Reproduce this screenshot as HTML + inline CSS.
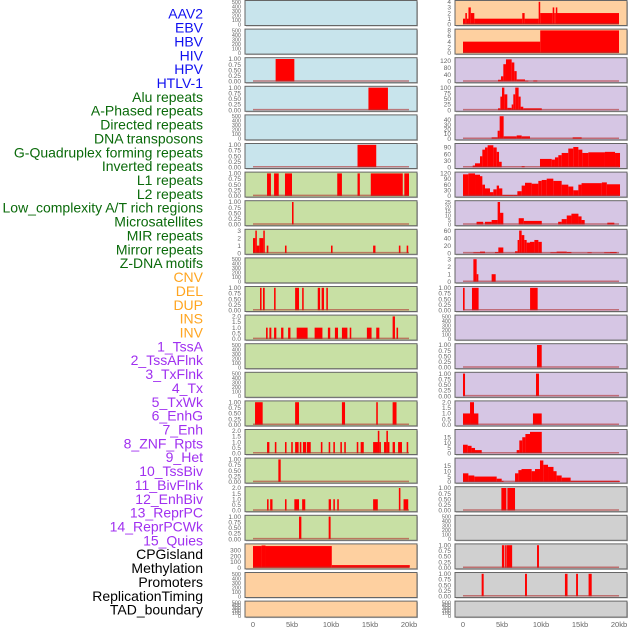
<!DOCTYPE html>
<html><head><meta charset="utf-8"><style>
html,body{margin:0;padding:0;background:#fff;width:630px;height:630px;overflow:hidden}
svg{display:block;font-family:"Liberation Sans",sans-serif}
</style></head><body>
<svg id="chart" width="630" height="630" viewBox="0 0 630 630" xmlns="http://www.w3.org/2000/svg"></svg>
<script>
// ---- track labels ----
const labels = ["AAV2","EBV","HBV","HIV","HPV","HTLV-1","Alu repeats","A-Phased repeats","Directed repeats","DNA transposons","G-Quadruplex forming repeats","Inverted repeats","L1 repeats","L2 repeats","Low_complexity A/T rich regions","Microsatellites","MIR repeats","Mirror repeats","Z-DNA motifs","CNV","DEL","DUP","INS","INV","1_TssA","2_TssAFlnk","3_TxFlnk","4_Tx","5_TxWk","6_EnhG","7_Enh","8_ZNF_Rpts","9_Het","10_TssBiv","11_BivFlnk","12_EnhBiv","13_ReprPC","14_ReprPCWk","15_Quies","CPGisland","Methylation","Promoters","ReplicationTiming","TAD_boundary"];
const labelColors = ["#1010f0","#1010f0","#1010f0","#1010f0","#1010f0","#1010f0","#0a6a0a","#0a6a0a","#0a6a0a","#0a6a0a","#0a6a0a","#0a6a0a","#0a6a0a","#0a6a0a","#0a6a0a","#0a6a0a","#0a6a0a","#0a6a0a","#0a6a0a","#ffa520","#ffa520","#ffa520","#ffa520","#ffa520","#a030f0","#a030f0","#a030f0","#a030f0","#a030f0","#a030f0","#a030f0","#a030f0","#a030f0","#a030f0","#a030f0","#a030f0","#a030f0","#a030f0","#a030f0","#000","#000","#000","#000","#000"];
const xTicks = [0,5,10,15,20];
const xTickLabels = ["0","5kb","10kb","15kb","20kb"];
// ---- tick sets ----
const T500 = [0,100,200,300,400,500];
const T1 = [0,0.25,0.5,0.75,1];
const T2 = [0,0.5,1,1.5,2];
const T3 = [0,1,2,3];
// ---- left column series [startKb,endKb,value] ----
const L_HIV = [[2.9,5.3,1]];
const L_HPV = [[14.8,17.3,1]];
const L_Alu = [[13.4,15.8,1]];
const L_L1 = [[1.8,2.3,1],[2.7,3.3,1],[4.1,5.0,1],[10.8,11.4,1],[13.4,13.7,1],[15.1,19.2,1],[19.4,20.0,1]];
const L_Low = [[5.0,5.2,1]];
const L_MIR = [[0,0.3,2],[0.3,0.47,3],[0.47,0.81,1],[0.81,1.32,2],[1.32,1.5,3],[1.76,1.97,1],[4.1,4.3,1],[10.0,10.2,1],[15.4,15.7,1],[18.7,18.9,1],[19.7,19.9,1]];
const L_CNV = [[0.9,1.1,1],[1.28,1.5,1],[2.7,2.9,1],[5.4,5.9,1],[6.3,6.5,1],[8.3,8.6,1],[8.8,9.1,1],[9.4,9.6,1]];
const L_INS = [[1.67,1.88,1],[2.1,2.35,1],[2.7,2.99,1],[3.6,3.9,1],[4.5,4.8,1],[5.6,7.0,1],[7.9,8.9,1],[9.6,9.9,1],[10.5,10.9,1],[11.4,12.1,1],[12.4,12.6,1],[14.6,15.2,1],[15.8,16.2,1],[17.9,18.2,2],[18.4,18.6,1]];
const L_Tx = [[0.26,1.24,1],[5.4,5.9,1],[11.4,11.8,1],[15.8,16.0,1],[17.9,18.4,1]];
const L_Enh = [[1.8,2.1,1],[2.8,3.0,1],[4.1,4.3,1],[4.9,5.1,1],[5.4,5.85,1],[6.0,6.2,1],[6.4,6.8,1],[6.9,7.4,1],[8.7,8.9,1],[9.7,9.9,1],[10.3,10.5,1],[11.2,11.4,1],[11.7,11.9,1],[13.3,13.5,1],[13.8,14.2,1],[15.4,15.9,1],[15.9,16.0,1],[16.0,16.2,2],[16.2,16.4,1],[16.8,17.1,1],[17.1,17.3,2],[17.3,17.4,1],[17.9,18.2,1],[18.6,19.1,1],[19.7,19.9,1]];
const L_Het = [[3.25,3.55,1]];
const L_Biv = [[1.8,2.0,1],[2.2,2.5,1],[4.1,4.3,1],[5.3,5.9,1],[6.3,6.7,1],[9.7,10.0,1],[10.3,10.5,1],[10.8,11.0,1],[15.4,16.0,1],[18.7,18.9,2],[19.3,19.9,1]];
const L_Repr = [[5.9,6.2,1],[9.7,9.95,1]];
const L_CPG = [[0,1.1,375],[1.1,1.6,385],[1.6,10.1,375],[10.1,20.1,45]];
// ---- right column series ----
const R_AAV2 = [[0,0.3,1],[0.3,0.5,2],[0.5,0.7,1],[0.7,1.0,3],[1.0,1.45,2],[1.45,7.6,1],[7.6,7.9,2],[7.9,9.7,1],[9.7,9.9,4],[9.9,11.5,2],[11.5,11.7,3],[11.7,11.9,2],[11.9,12.05,3],[12.05,20.0,2]];
const R_EBV = [[0,9.9,4],[9.9,20.0,8]];
const R_HBV = [[4.49,4.87,10],[4.87,5.17,30],[5.17,5.51,100],[5.51,6.24,128],[6.24,6.58,110],[6.58,6.88,60],[6.88,7.95,12],[7.95,8.38,5],[9.01,9.53,6]];
const R_HIV = [[4.49,4.79,8],[4.79,5.0,60],[5.0,5.3,100],[5.3,5.68,70],[5.68,6.24,10],[6.24,6.45,25],[6.45,6.7,70],[6.7,7.13,100],[7.13,7.39,60],[7.39,7.73,15],[7.73,10.1,8]];
const R_HPV = [[3.67,4.44,3],[4.44,4.7,17],[4.7,5.21,48],[5.21,6.88,5],[6.88,7.52,7],[7.52,8.59,5],[14.06,15.21,3]];
const R_HTLV = [[1.24,1.54,8],[1.54,2.18,18],[2.18,2.48,50],[2.48,2.82,80],[2.82,3.16,90],[3.16,3.89,100],[3.89,4.32,90],[4.32,4.62,70],[4.62,4.96,25],[7.52,7.9,5],[9.87,11.37,38],[11.37,11.79,35],[11.79,12.22,45],[12.22,12.65,55],[12.65,13.5,65],[13.5,14.14,85],[14.14,14.79,92],[14.79,15.3,80],[15.3,16.07,65],[16.07,18.2,68],[18.2,19.49,70],[19.49,20.13,65]];
const R_Alu = [[0,0.69,115],[0.69,1.54,120],[1.54,2.18,113],[2.18,2.48,105],[2.48,2.82,60],[2.82,3.46,40],[3.46,3.89,20],[3.89,4.32,35],[4.32,4.62,55],[4.62,5.04,40],[5.04,6.45,5],[6.45,6.97,5],[6.97,7.52,25],[7.52,7.95,55],[7.95,8.8,70],[8.8,9.66,65],[9.66,10.09,80],[10.09,10.73,85],[10.73,11.58,92],[11.58,12.65,80],[12.65,13.5,60],[13.5,14.14,50],[14.14,14.79,30],[14.79,15.2,60],[15.2,17.8,68],[17.8,18.44,72],[18.44,20.13,62]];
const R_APh = [[1.74,2.6,3],[2.8,3.67,3],[3.67,4.44,5],[4.44,4.75,25],[4.75,5.17,13],[7.14,7.8,7],[7.8,10.1,4],[12.2,12.65,3],[12.65,13.3,6],[13.3,13.9,10],[13.9,14.8,12],[14.8,15.2,9],[15.2,15.6,5],[18.5,19.4,2]];
const R_Dir = [[1.33,2.18,2],[2.18,2.82,4],[4.1,4.53,3],[4.53,5.17,15],[6.67,7.0,5],[7.0,7.2,35],[7.2,7.52,60],[7.52,7.86,48],[7.86,8.16,35],[8.16,8.59,28],[8.59,9.15,30],[9.15,9.66,35],[9.66,10.1,30],[11.2,12.0,2],[12.0,13.3,4],[13.3,13.9,3],[15.95,16.5,2],[18.1,18.85,2],[18.85,19.7,3]];
const R_DNA = [[1.33,1.75,3],[1.75,1.97,1],[3.67,4.19,1]];
const R_GQ = [[0,0.21,1],[1.15,2.0,1],[8.6,9.57,1]];
const R_L1 = [[9.49,10.09,1]];
const R_L2 = [[0,0.26,1],[9.36,9.74,1]];
const R_Low = [[0,0.9,1],[0.9,1.41,2],[1.41,1.97,1],[8.97,10.09,1]];
const R_Micro = [[0,0.6,8],[0.6,1.1,7],[1.1,1.54,5],[1.54,2.4,3],[6.88,7.22,3],[7.22,7.6,12],[7.6,8.0,15],[8.0,8.59,18],[8.59,10.1,20]];
const R_MIR = [[0,0.69,8],[0.69,1.45,6],[1.45,4.32,5],[4.32,4.96,3],[4.96,5.2,1],[6.67,7.1,8],[7.1,7.5,11],[7.5,8.8,12],[8.8,9.23,10],[9.23,9.87,12],[9.87,10.3,20],[10.3,10.9,16],[10.9,11.6,14],[11.6,12.0,10],[12.0,12.65,6],[12.65,13.8,4],[13.8,20.1,1]];
const R_Mirror = [[4.92,5.56,1],[5.69,6.67,1]];
const R_ZDNA = [[4.99,5.3,1],[5.4,5.6,1],[5.64,6.3,1],[9.49,9.74,1]];
const R_CNV = [[2.39,2.65,1],[7.95,8.2,1],[13.07,13.4,1],[14.5,14.74,1],[16.1,16.5,1]];

const BLUE="#c8e4ec", GREEN="#c8e0a4", ORANGE="#fed0a0", PURPLE="#d6c6e4", GRAY="#d0d0d0";
// panel config: [bg, data, ymax, ticks]
const leftPanels = [
 [BLUE,null,500,T500],[BLUE,null,500,T500],[BLUE,L_HIV,1,T1],[BLUE,L_HPV,1,T1],[BLUE,null,500,T500],[BLUE,L_Alu,1,T1],
 [GREEN,L_L1,1,T1],[GREEN,L_Low,1,T1],[GREEN,L_MIR,3,T3],[GREEN,null,500,T500],[GREEN,L_CNV,1,T1],[GREEN,L_INS,2,T2],
 [GREEN,null,500,T500],[GREEN,null,500,T500],[GREEN,L_Tx,1,T1],[GREEN,L_Enh,2,T2],[GREEN,L_Het,1,T1],[GREEN,L_Biv,2,T2],[GREEN,L_Repr,1,T1],
 [ORANGE,L_CPG,390,[0,100,200,300]],[ORANGE,null,500,T500],[ORANGE,null,500,T500]];
const rightPanels = [
 [ORANGE,R_AAV2,4,[0,1,2,3,4]],[ORANGE,R_EBV,8,[0,2,4,6,8]],[PURPLE,R_HBV,130,[0,40,80,120]],[PURPLE,R_HIV,100,[0,25,50,75,100]],
 [PURPLE,R_HPV,48,[0,10,20,30,40]],[PURPLE,R_HTLV,102,[0,30,60,90]],[PURPLE,R_Alu,120,[0,30,60,90,120]],[PURPLE,R_APh,25,[0,5,10,15,20,25]],
 [PURPLE,R_Dir,60,[0,20,40,60]],[PURPLE,R_DNA,3,T3],[PURPLE,R_GQ,1,T1],[PURPLE,null,500,T500],[PURPLE,R_L1,1,T1],[PURPLE,R_L2,1,T1],
 [PURPLE,R_Low,2,T2],[PURPLE,R_Micro,21,[0,5,10,15]],[PURPLE,R_MIR,21,[0,5,10,15]],[GRAY,R_Mirror,1,T1],[GRAY,null,500,T500],
 [GRAY,R_ZDNA,1,T1],[GRAY,R_CNV,1,T1],[GRAY,null,500,T500]];

const svg = document.getElementById('chart');
const NS = "http://www.w3.org/2000/svg";
function mk(tag, attrs, parent){const e=document.createElementNS(NS,tag);for(const k in attrs)e.setAttribute(k,attrs[k]);(parent||svg).appendChild(e);return e;}
function fmt(t,ticks){const mx=ticks[ticks.length-1];if(mx===1)return t.toFixed(2);if(mx===2)return t.toFixed(1);return String(t);}

// labels
labels.forEach((l,i)=>{
  const t=mk('text',{x:203,y:15+i*13.86,'text-anchor':'end','dominant-baseline':'middle','font-size':'14',fill:labelColors[i]});
  t.textContent=l;
  
  
});

function drawColumn(panels, px, colName){
  const w=172, x0=px+8, kbScale=7.8;
  const xS=kb=>x0+kb*kbScale;
  panels.forEach((p,i)=>{
    const top=0.5+i*28.6, h=(i===21)?16:25;
    const g=mk('g',{});
    
    
    mk('rect',{x:px+1,y:top+1,width:w,height:h,fill:'#bbb'},g);
    mk('rect',{x:px,y:top,width:w,height:h,fill:p[0],stroke:'#666','stroke-width':1},g);
    const ymax=p[2], base=top+h-1.2, span=h-2.5;
    const yS=v=>base-v/ymax*span;
    p[3].forEach(t=>{
      const tx=mk('text',{x:px-4,y:yS(t)+0.5,'text-anchor':'end','dominant-baseline':'middle','font-size':(p[3].length>5?'5.5':'6.5'),fill:'#666'},g);
      tx.textContent=fmt(t,p[3]);
      
      
    });
    if(p[1]){
      p[1].forEach(s=>{
        const xa=xS(s[0]), xb=xS(s[1]);
        const r=mk('rect',{x:xa,y:yS(s[2]),width:Math.max(1.5,xb-xa),height:base-yS(s[2]),fill:'#ff0000'},g);
        
        
      });
      const bl=mk('line',{x1:xS(0),x2:xS(20),y1:base-0.5,y2:base-0.5,stroke:'#b03030','stroke-opacity':0.6,'stroke-width':1.5},g);
      
      
    }
  });
  xTicks.forEach((t,i)=>{
    const tx=mk('text',{x:xS(t),y:627,'text-anchor':'middle','font-size':'7.5',fill:'#666'});
    tx.textContent=xTickLabels[i];
    
    
  });
}
drawColumn(leftPanels,245,'left');
drawColumn(rightPanels,455,'right');
</script>
</body></html>
